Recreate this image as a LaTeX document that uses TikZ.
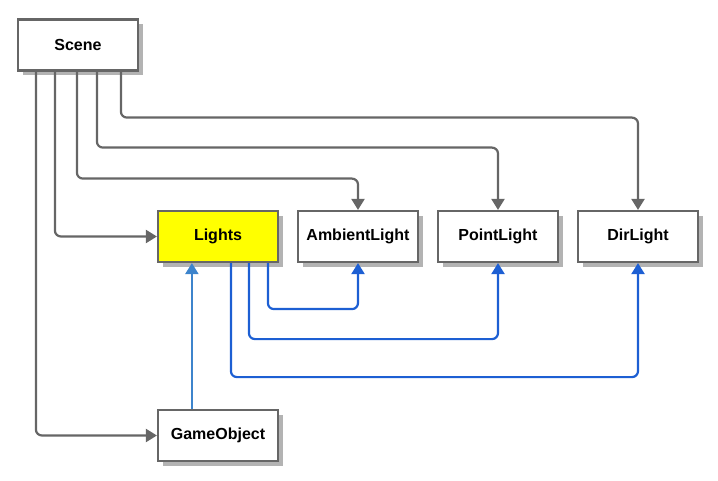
\documentclass[tikz,border=0pt]{standalone}
\usepackage{fontspec}
\setmainfont{Liberation Sans}
\usetikzlibrary{arrows.meta,shadows}
\usepackage{xcolor}
\definecolor{boxline}{HTML}{666666}
\definecolor{linkgray}{HTML}{666666}
\definecolor{linkblue}{HTML}{1D5FD3}
\definecolor{linklight}{HTML}{3D84CC}
\definecolor{lightsfill}{HTML}{FFFF00}
\definecolor{shadowgray}{HTML}{B3B3B3}

\begin{document}
\begin{tikzpicture}[
  x=1pt, y=-1pt,
  cls/.style={draw=boxline, line width=2.2pt, fill=white,
              minimum width=120pt, minimum height=51pt, inner sep=0pt,
              font=\fontsize{16}{18}\selectfont\bfseries,
              drop shadow={shadow xshift=5pt, shadow yshift=-5pt,
                           fill=shadowgray, opacity=1}},
  graylink/.style={draw=linkgray, line width=2.2pt, rounded corners=6pt,
                   -{Triangle[width=13pt,length=11pt]}},
  bluelink/.style={draw=linkblue, line width=2.2pt, rounded corners=6pt,
                   -{Triangle[width=13pt,length=11pt]}}
]
  \useasboundingbox (0,0) rectangle (718,481);

  % Classes
  \node[cls] (scene) at (78,45) {Scene};
  \node[cls, fill=lightsfill] (lights) at (218,236.5) {Lights};
  \node[cls] (ambient) at (358,236.5) {AmbientLight};
  \node[cls] (point) at (498,236.5) {PointLight};
  \node[cls] (dir) at (638,236.5) {DirLight};
  \node[cls] (gameobj) at (218,435.5) {GameObject};

  % Scene owns everything
  \draw[graylink] ([xshift=19pt]scene.south west) |- (gameobj.west);
  \draw[graylink] ([xshift=38pt]scene.south west) |- (lights.west);
  \draw[graylink] ([xshift=60pt]scene.south west) -- ++(0,107) -| (ambient.north);
  \draw[graylink] ([xshift=80pt]scene.south west) -- ++(0,76) -| (point.north);
  \draw[graylink] ([xshift=104pt]scene.south west) -- ++(0,46) -| (dir.north);

  % Lights to each light type
  \draw[bluelink] ([xshift=111pt]lights.south west) -- ++(0,46) -| (ambient.south);
  \draw[bluelink] ([xshift=92pt]lights.south west) -- ++(0,76) -| (point.south);
  \draw[bluelink] ([xshift=74pt]lights.south west) -- ++(0,114) -| (dir.south);

  % GameObject up to Lights
  \draw[bluelink, draw=linklight] ([xshift=35pt]gameobj.north west) -- ([xshift=35pt]lights.south west);
\end{tikzpicture}
\end{document}
